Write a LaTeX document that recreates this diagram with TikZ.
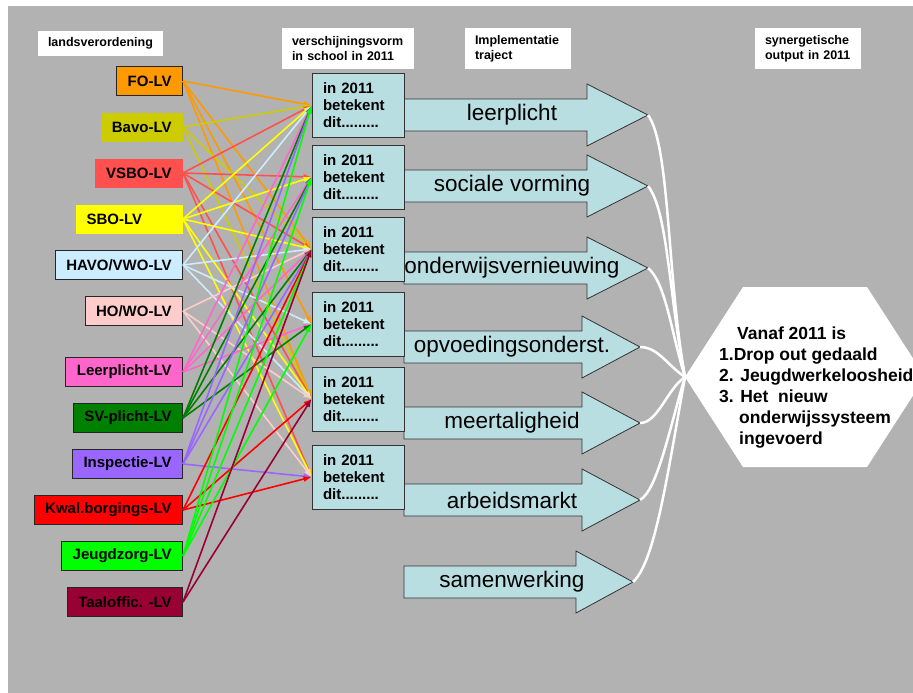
\documentclass[tikz,border=0pt]{standalone}
\usepackage{fontspec}
\setmainfont{Liberation Sans}
\usetikzlibrary{arrows.meta}

\definecolor{bgGray}{HTML}{B2B2B2}
\definecolor{midFill}{HTML}{B8DEE2}
\definecolor{lvFO}{HTML}{FF9900}
\definecolor{lvBavo}{HTML}{CCCC00}
\definecolor{lvVSBO}{HTML}{FF5050}
\definecolor{lvSBO}{HTML}{FFFF00}
\definecolor{lvHAVO}{HTML}{CCECFF}
\definecolor{lvHO}{HTML}{FFCCCC}
\definecolor{lvLeer}{HTML}{FF66CC}
\definecolor{lvSV}{HTML}{008000}
\definecolor{lvInsp}{HTML}{9966FF}
\definecolor{lvKwal}{HTML}{FF0000}
\definecolor{lvJeugd}{HTML}{00FF00}
\definecolor{lvTaal}{HTML}{990033}

\tikzset{
  lv/.style={anchor=east, draw=black!85, line width=0.8pt, minimum height=29pt,
    inner xsep=11pt, font=\fontsize{15}{17}\selectfont\bfseries},
  lvplain/.style={lv, draw=none},
  mid/.style={draw=black!80, fill=midFill, line width=0.8pt, text width=70pt,
    inner xsep=11pt, minimum height=64pt, align=left,
    font=\fontsize{15}{17}\selectfont\bfseries},
  head/.style={fill=white, inner xsep=10pt, align=left,
    font=\fontsize{12.5}{15}\selectfont\bfseries},
  link/.style={line width=1.6pt, -{Latex[length=8pt,width=6pt]}},
  bigarrow/.style={draw=black!80, fill=midFill, line width=0.8pt},
  trajtext/.style={inner sep=0pt, font=\fontsize{22.5}{27}\selectfont},
  outtext/.style={inner sep=0pt, align=left, font=\fontsize{17.5}{21}\selectfont\bfseries},
  merge/.style={white, line width=2.5pt},
}

\begin{document}
\begin{tikzpicture}[x=1pt,y=-1pt]
    \useasboundingbox (0,0) rectangle (913,693);
    \clip (0,0) rectangle (913,693);
    \fill[bgGray] (8,6) rectangle (913,693);

    % kopjes
    \node[head, text width=105pt, minimum height=25pt] (hLV) at (100.5,43.5) {landsverordening};
    \node[head, text width=112pt, minimum height=41pt] (hVorm) at (348,48.5) {verschijningsvorm\\in school in 2011};
    \node[head, text width=86pt, minimum height=41pt] (hImpl) at (518,48.5) {Implementatie\\traject};
    \node[head, text width=86pt, minimum height=41pt] (hOut) at (808,48.5) {synergetische\\output in 2011};

    % implementatie trajecten
    \foreach \nm/\y/\hx/\tx/\lab in {a1/115/587/648/leerplicht, a2/186/587/648/sociale vorming,
        a3/268/587/648/onderwijsvernieuwing, a4/347/582/640/opvoedingsonderst.,
        a5/423/582/640/meertaligheid, a6/500/582/640/arbeidsmarkt, a7/582/576/633/samenwerking}{
      \draw[bigarrow] (404,\y-16) -- (\hx,\y-16) -- (\hx,\y-31) -- (\tx,\y)
        -- (\hx,\y+31) -- (\hx,\y+16) -- (404,\y+16) -- cycle;
      \node[trajtext] (\nm) at (512,\y) {\lab};
      \coordinate (tip\nm) at (\tx,\y);
    }

    % verschijningsvorm
    \foreach \i/\y in {1/105.5, 2/177, 3/249, 4/324, 5/399, 6/477}
      \node[mid] (m\i) at (358,\y) {in 2011\\betekent\\dit.........};

    % landsverordeningen
    \node[lv, fill=lvFO] (fo) at (183,81) {FO-LV};
    \node[lvplain, fill=lvBavo] (bavo) at (183,127) {Bavo-LV};
    \node[lvplain, fill=lvVSBO] (vsbo) at (183,173) {VSBO-LV};
    \node[lvplain, fill=lvSBO, text width=85pt, align=left] (sbo) at (183,219) {SBO-LV};
    \node[lv, fill=lvHAVO] (havo) at (183,265) {HAVO/VWO-LV};
    \node[lv, fill=lvHO] (howo) at (183,311) {HO/WO-LV};
    \node[lv, fill=lvLeer] (leer) at (183,372) {Leerplicht-LV};
    \node[lv, fill=lvSV] (sv) at (183,418) {SV-plicht-LV};
    \node[lv, fill=lvInsp] (insp) at (183,464) {Inspectie-LV};
    \node[lv, fill=lvKwal] (kwal) at (183,510) {Kwal.borgings-LV};
    \node[lv, fill=lvJeugd] (jeugd) at (183,556) {Jeugdzorg-LV};
    \node[lv, fill=lvTaal] (taal) at (183,602) {Taaloffic. -LV};

    \foreach \src/\col/\dests in {fo/lvFO/{1,3,4,5}, bavo/lvBavo/{1,3,5},
        vsbo/lvVSBO/{1,2,3,5,6}, sbo/lvSBO/{1,2,3,5,6}, havo/lvHAVO/{1,3,4,5},
        howo/lvHO/{3,5,6}, leer/lvLeer/{1,2,3,4}, sv/lvSV/{1,2,3,4},
        insp/lvInsp/{1,2,3,6}, kwal/lvKwal/{3,5,6}, jeugd/lvJeugd/{1,2,3,4},
        taal/lvTaal/{3,5}}
      \foreach \d in \dests
        \draw[link, color=\col] (\src.east) -- (m\d.west);

    % synergetische output
    \fill[white] (685,377) -- (743,287) -- (867,287) -- (925,377) -- (867,467) -- (743,467) -- cycle;
    \coordinate (hexW) at (685,377);
    \node[outtext, anchor=north west] (out) at (719,327)
      {\hspace*{18pt}Vanaf 2011 is\\1.Drop out gedaald\\2. Jeugdwerkeloosheid\\3. Het\ \ nieuw\\
       \hspace*{20pt}onderwijssysteem\\\hspace*{20pt}ingevoerd};

    \draw[merge] (tipa1) .. controls +(22,30) and +(-18,-100) .. (hexW);
    \draw[merge] (tipa2) .. controls +(20,25) and +(-16,-80) .. (hexW);
    \draw[merge] (tipa3) .. controls +(18,15) and +(-14,-45) .. (hexW);
    \draw[merge] (tipa4) .. controls +(18,0) and +(-18,-12) .. (hexW);
    \draw[merge] (tipa5) .. controls +(18,0) and +(-18,12) .. (hexW);
    \draw[merge] (tipa6) .. controls +(18,-10) and +(-14,45) .. (hexW);
    \draw[merge] (tipa7) .. controls +(22,-20) and +(-18,100) .. (hexW);
\end{tikzpicture}
\end{document}
